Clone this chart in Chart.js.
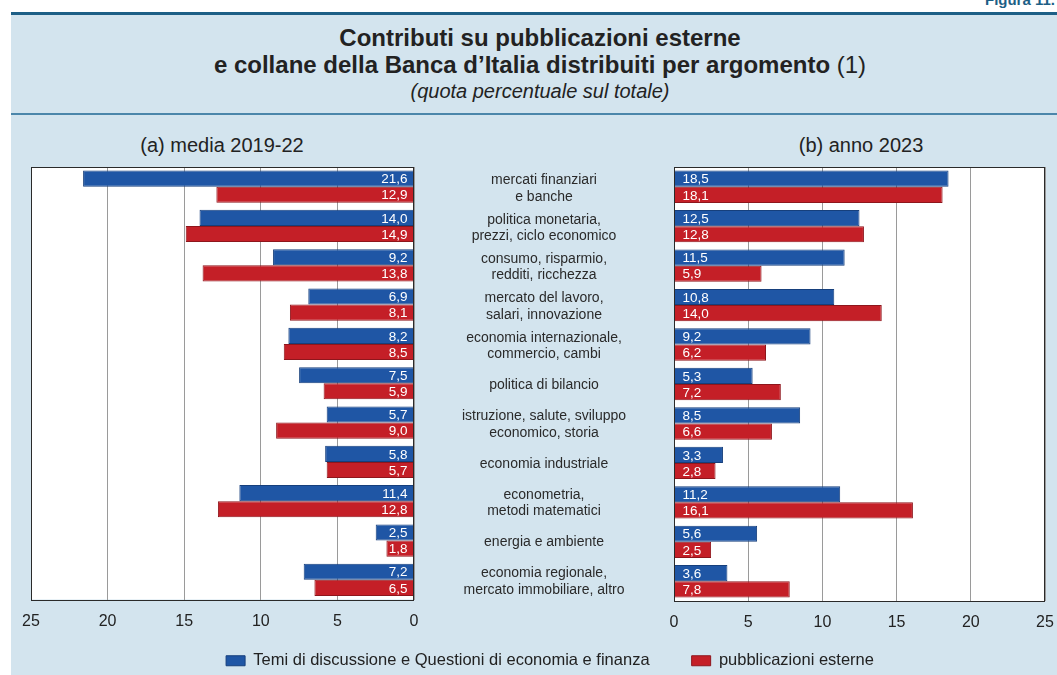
<!DOCTYPE html>
<html>
<head>
<meta charset="utf-8">
<script src="https://cdn.jsdelivr.net/npm/chart.js@4.4.0/dist/chart.umd.min.js"></script>
<style>
  body { margin: 0; width: 1057px; height: 675px; overflow: hidden; position: relative; background: #fff;
         font-family: "Liberation Sans", Arial, sans-serif; color: #222; }
  .panel { position: absolute; left: 11px; top: 15px; width: 1046px; height: 660px; background: #d3e4ee; }
  .rule-top { position: absolute; left: 11px; top: 12px; width: 1046px; height: 3px; background: #1d5f86; }
  .rule-mid { position: absolute; left: 11px; top: 113px; width: 1046px; height: 2px; background: #4b86aa; }
  .fig { position: absolute; right: 2px; top: -9px; font-weight: bold; font-size: 15px; color: #1d5f86; }
  .title { position: absolute; left: 0; top: 24px; width: 1080px; text-align: center; font-size: 24px; line-height: 27px; }
  .sub { position: absolute; left: 0; top: 80px; width: 1080px; text-align: center; font-size: 20px; line-height: 23px; font-style: italic; }
  .head { position: absolute; top: 134px; width: 300px; text-align: center; font-size: 20px; line-height: 23px; }
  .box { position: absolute; }
</style>
</head>
<body>
<div class="panel"></div>
<div class="rule-top"></div>
<div class="rule-mid"></div>
<div class="fig">Figura 11.</div>
<div class="title"><b>Contributi su pubblicazioni esterne</b><br><b>e collane della Banca d’Italia distribuiti per argomento</b> (1)</div>
<div class="sub">(quota percentuale sul totale)</div>
<div class="head" style="left:72px">(a) media 2019-22</div>
<div class="head" style="left:711px">(b) anno 2023</div>
<div class="box" style="left:0;top:120px;width:1069px;height:559px"><canvas id="leftChart"></canvas></div>
<div class="box" style="left:660px;top:120px;width:397px;height:555px"><canvas id="rightChart"></canvas></div>

<script>
var categories = [
  ["mercati finanziari", "e banche"],
  ["politica monetaria,", "prezzi, ciclo economico"],
  ["consumo, risparmio,", "redditi, ricchezza"],
  ["mercato del lavoro,", "salari, innovazione"],
  ["economia internazionale,", "commercio, cambi"],
  ["politica di bilancio"],
  ["istruzione, salute, sviluppo", "economico, storia"],
  ["economia industriale"],
  ["econometria,", "metodi matematici"],
  ["energia e ambiente"],
  ["economia regionale,", "mercato immobiliare, altro"]
];
var seriesNames = ["Temi di discussione e Questioni di economia e finanza", "pubblicazioni esterne"];
var temi2019_22 = [21.6, 14.0, 9.2, 6.9, 8.2, 7.5, 5.7, 5.8, 11.4, 2.5, 7.2];
var esterne2019_22 = [12.9, 14.9, 13.8, 8.1, 8.5, 5.9, 9.0, 5.7, 12.8, 1.8, 6.5];
var temi2023 = [18.5, 12.5, 11.5, 10.8, 9.2, 5.3, 8.5, 3.3, 11.2, 5.6, 3.6];
var esterne2023 = [18.1, 12.8, 5.9, 14.0, 6.2, 7.2, 6.6, 2.8, 16.1, 2.5, 7.8];
var xTicks = [0, 5, 10, 15, 20, 25];

var blue = '#1f56a5';
var red = '#c41f27';
var fontFamily = "'Liberation Sans', Arial, sans-serif";
Chart.defaults.font.family = fontFamily;
Chart.defaults.color = '#222';

// white plot background + dark frame round it
var plotFrame = {
  id: 'plotFrame',
  beforeDraw: function(chart) {
    var a = chart.chartArea, ctx = chart.ctx;
    ctx.save();
    ctx.fillStyle = '#fff';
    ctx.fillRect(a.left, a.top, a.right - a.left, a.bottom - a.top);
    ctx.restore();
  },
  afterDatasetsDraw: function(chart) {
    var a = chart.chartArea, ctx = chart.ctx;
    ctx.save();
    ctx.strokeStyle = '#2a2a2a';
    ctx.lineWidth = 1;
    ctx.strokeRect(Math.round(a.left) + 0.5, Math.round(a.top) + 0.5,
                   Math.round(a.right - a.left) - 1, Math.round(a.bottom - a.top));
    ctx.restore();
  }
};

// white value labels next to the zero line
var valueLabels = {
  id: 'valueLabels',
  afterDatasetsDraw: function(chart) {
    var ctx = chart.ctx;
    var mirrored = chart.options.scales.x.reverse;
    ctx.save();
    ctx.fillStyle = '#fff';
    ctx.font = '13.5px ' + fontFamily;
    ctx.textBaseline = 'middle';
    ctx.textAlign = mirrored ? 'right' : 'left';
    chart.data.datasets.forEach(function(ds, i) {
      chart.getDatasetMeta(i).data.forEach(function(bar, j) {
        var txt = ds.data[j].toFixed(1).replace('.', ',');
        var x = mirrored ? bar.base - 6 : bar.base + 8;
        ctx.fillText(txt, x, bar.y + 1);
      });
    });
    ctx.restore();
  }
};

// topic names in the middle column, placed with the left chart's category scale
var topicLabels = {
  id: 'topicLabels',
  afterDraw: function(chart) {
    var y = chart.scales.y, ctx = chart.ctx;
    var cx = chart.chartArea.right + 130;
    ctx.save();
    ctx.fillStyle = '#2a2a2a';
    ctx.font = '14px ' + fontFamily;
    ctx.textAlign = 'center';
    ctx.textBaseline = 'middle';
    categories.forEach(function(lines, i) {
      var cy = y.getPixelForTick(i) + 2;
      var start = cy - (lines.length - 1) * 8.25;
      lines.forEach(function(line, k) {
        ctx.fillText(line, cx, start + k * 16.5);
      });
    });
    ctx.restore();
  }
};

function makeDatasets(a, b) {
  return [
    { label: seriesNames[0], data: a, backgroundColor: blue, borderColor: '#163f7c', borderWidth: 1 },
    { label: seriesNames[1], data: b, backgroundColor: red, borderColor: '#8e161c', borderWidth: 1 }
  ];
}

function xScale(reverse, fitHeight) {
  return {
    min: 0, max: 25, reverse: reverse,
    afterBuildTicks: function(s) { s.ticks = xTicks.map(function(v) { return { value: v }; }); },
    afterFit: function(s) { s.height = fitHeight; },
    grid: { color: '#9a9a9a', lineWidth: 1, drawTicks: true, tickLength: 12, tickColor: 'rgba(0,0,0,0)' },
    border: { display: false },
    ticks: { font: { size: 16 }, color: '#222', padding: 0 }
  };
}

new Chart(document.getElementById('leftChart'), {
  type: 'bar',
  data: { labels: categories, datasets: makeDatasets(temi2019_22, esterne2019_22) },
  options: {
    indexAxis: 'y',
    maintainAspectRatio: false,
    animation: false,
    datasets: { bar: { barPercentage: 1, categoryPercentage: 0.82 } },
    layout: { padding: { top: 47, left: 31, right: 0, bottom: 0 } },
    scales: {
      x: xScale(true, 43),
      y: {
        position: 'right',
        afterFit: function(s) { s.width = 655; },
        grid: { display: false, drawTicks: false },
        border: { display: false },
        ticks: { display: false }
      }
    },
    plugins: {
      legend: {
        position: 'bottom',
        labels: {
          boxWidth: 19, boxHeight: 10, padding: 10, font: { size: 16.5 }, color: '#222',
          // keep the wide gap between the two legend entries
          generateLabels: function(chart) {
            var items = Chart.defaults.plugins.legend.labels.generateLabels(chart);
            items[0].text = items[0].text + '\u00a0\u00a0\u00a0\u00a0\u00a0\u00a0\u00a0';
            return items;
          }
        }
      },
      tooltip: { enabled: false }
    }
  },
  plugins: [plotFrame, valueLabels, topicLabels]
});

new Chart(document.getElementById('rightChart'), {
  type: 'bar',
  data: { labels: categories, datasets: makeDatasets(temi2023, esterne2023) },
  options: {
    indexAxis: 'y',
    maintainAspectRatio: false,
    animation: false,
    datasets: { bar: { barPercentage: 1, categoryPercentage: 0.82 } },
    layout: { padding: { top: 47, left: 0, right: 12, bottom: 0 } },
    scales: {
      x: xScale(false, 74),
      y: {
        position: 'left',
        afterFit: function(s) { s.width = 14; },
        grid: { display: false, drawTicks: false },
        border: { display: false },
        ticks: { display: false }
      }
    },
    plugins: { legend: { display: false }, tooltip: { enabled: false } }
  },
  plugins: [plotFrame, valueLabels]
});
</script>
</body>
</html>
